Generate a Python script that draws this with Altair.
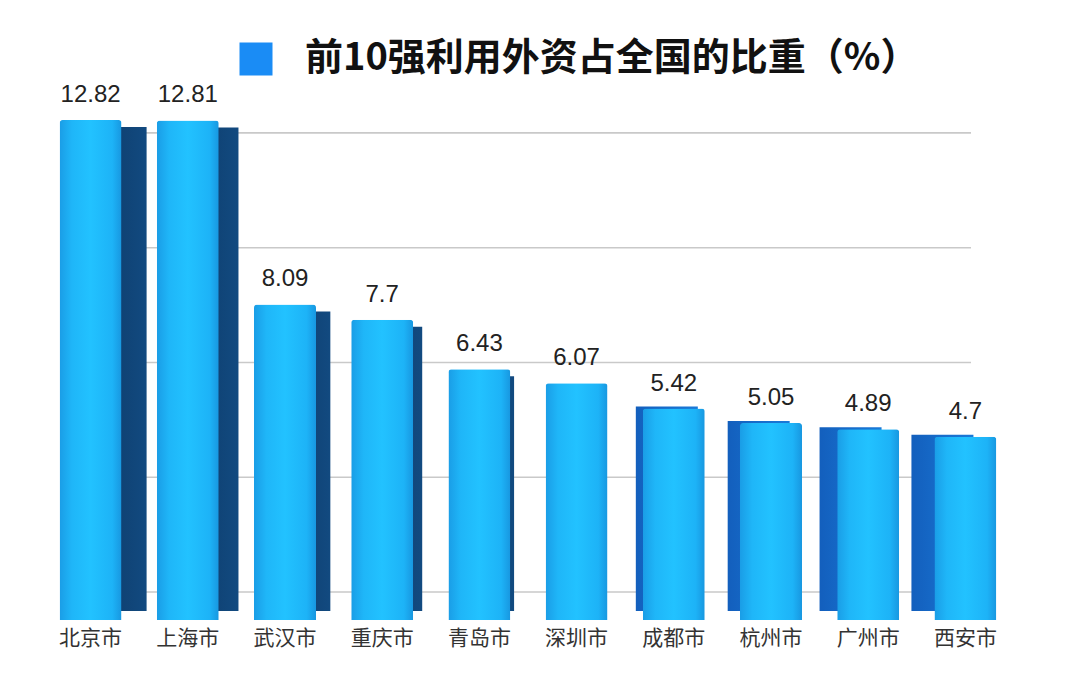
import altair as alt
import pandas as pd

cities = ["北京市", "上海市", "武汉市", "重庆市", "青岛市", "深圳市", "成都市", "杭州市", "广州市", "西安市"]
values = [12.82, 12.81, 8.09, 7.7, 6.43, 6.07, 5.42, 5.05, 4.89, 4.7]
grid_values = [0, 3, 6, 9, 12]
series_name = "前10强利用外资占全国的比重（%）"

df = pd.DataFrame({"city": cities, "value": values, "series": series_name})
grid_df = pd.DataFrame({"g": grid_values})

x_axis = alt.Axis(
    title=None, labelAngle=0, ticks=False, domain=False, grid=False,
    labelFontSize=21, labelColor="#333333", labelPadding=7,
    labelFont="Noto Sans CJK SC",
)
x_enc = alt.X("city:N", sort=cities, scale=alt.Scale(paddingInner=0, paddingOuter=0), axis=x_axis)
y_scale = alt.Scale(domain=[0, 14], nice=False, zero=True)

grid = alt.Chart(grid_df).mark_rule(color="#c9c9c9", strokeWidth=1.6).encode(
    y=alt.Y("g:Q", scale=alt.Scale(domain=[-0.732, 13.54], nice=False, zero=False), axis=None),
    x=alt.value(98),
    x2=alt.value(929),
)

# half band step (97.2 / 2) so the offset is measured from the band centre
base = alt.Chart(df).transform_window(idx="row_number()").transform_calculate(
    side="25 - 5.33 * (datum.idx - 1)"
).transform_calculate(
    xoff="48.6 + datum.side"
)

dark_grad = alt.LinearGradient(
    gradient="linear",
    stops=[
        alt.GradientStop(color="#0c3864", offset=0),
        alt.GradientStop(color="#124a80", offset=1),
    ],
    x1=0, x2=1, y1=0, y2=0,
)
mid_grad = alt.LinearGradient(
    gradient="linear",
    stops=[
        alt.GradientStop(color="#135fbd", offset=0),
        alt.GradientStop(color="#1a7ad8", offset=1),
    ],
    x1=0, x2=1, y1=0, y2=0,
)

side_right = base.transform_filter("datum.side > 2").mark_bar(
    size=62, fill=dark_grad, yOffset=7
).encode(
    x=x_enc,
    xOffset=alt.XOffset("xoff:Q", scale=None),
    y=alt.Y("value:Q", scale=y_scale, axis=None, stack=None),
    y2=alt.value(537),
)

side_left = base.transform_filter("datum.side < -2").mark_bar(
    size=62, fill=mid_grad, yOffset=-2
).encode(
    x=x_enc,
    xOffset=alt.XOffset("xoff:Q", scale=None),
    y=alt.Y("value:Q", scale=y_scale, axis=None, stack=None),
    y2=alt.value(537),
)

grad = alt.LinearGradient(
    gradient="linear",
    stops=[
        alt.GradientStop(color="#1a9de6", offset=0),
        alt.GradientStop(color="#1fb6f8", offset=0.2),
        alt.GradientStop(color="#22c2ff", offset=0.5),
        alt.GradientStop(color="#1db3f7", offset=0.85),
        alt.GradientStop(color="#1897e0", offset=1),
    ],
    x1=0, x2=1, y1=0, y2=0,
)

front = alt.Chart(df).mark_bar(
    size=62, fill=grad, cornerRadiusTopLeft=3, cornerRadiusTopRight=3
).encode(
    x=x_enc,
    y=alt.Y("value:Q", scale=y_scale, axis=None),
)

labels = alt.Chart(df).mark_text(
    dy=-18, baseline="alphabetic", align="center", fontSize=24,
    font="Liberation Sans", color="#222222"
).encode(
    x=x_enc,
    y=alt.Y("value:Q", scale=y_scale, axis=None),
    text=alt.Text("value:Q", format="~g"),
)

legend_layer = alt.Chart(df).mark_square(opacity=0).encode(
    x=x_enc,
    y=alt.value(0),
    color=alt.Color(
        "series:N",
        scale=alt.Scale(range=["#1a8cf5"]),
        legend=alt.Legend(
            title=None, orient="none", legendX=195, legendY=-34,
            symbolType="square", symbolSize=1089, symbolOpacity=1,
            symbolStrokeWidth=0, labelFontSize=38, labelFontWeight="bold",
            labelFont="Noto Sans CJK SC", labelColor="#111111",
            labelOffset=30, labelLimit=900, padding=0,
        ),
    ),
)

chart = alt.layer(grid, side_right, side_left, front, labels, legend_layer).resolve_scale(
    y="independent"
).properties(
    width=972, height=546,
    autosize=alt.AutoSizeParams(type="none"),
    padding={"left": 34, "top": 66, "right": 20, "bottom": 40},
    background="white",
).configure_view(stroke=None)

chart.save("out.html", embed_options={"renderer": "svg", "actions": False})
